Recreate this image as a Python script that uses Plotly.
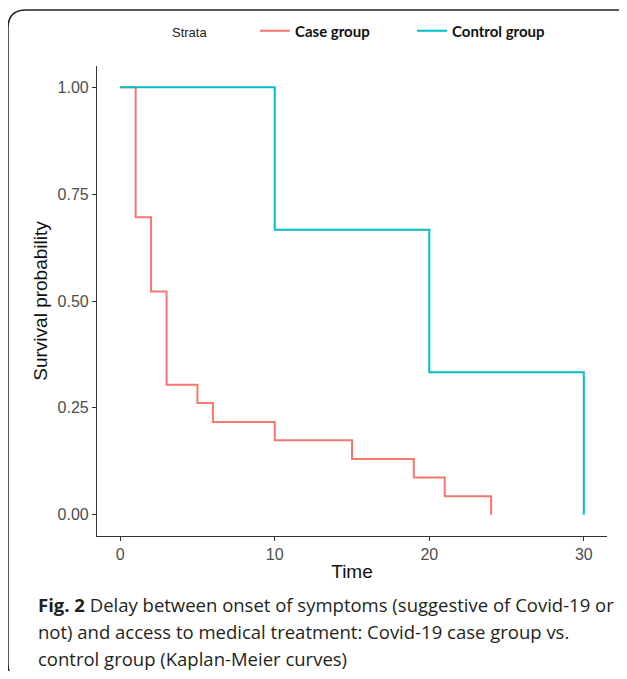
import plotly.graph_objects as go

# Kaplan-Meier estimates
case_time = [0, 1, 2, 3, 5, 6, 10, 15, 19, 21, 24]
case_surv = [1.0, 0.696, 0.522, 0.304, 0.261, 0.217, 0.174, 0.130, 0.087, 0.043, 0.0]

control_time = [0, 10, 20, 30]
control_surv = [1.0, 0.667, 0.333, 0.0]

x_ticks = [0, 10, 20, 30]
y_ticks = [0, 0.25, 0.5, 0.75, 1.0]
y_ticklabels = ["0.00", "0.25", "0.50", "0.75", "1.00"]

caption_lines = [
    "<b>Fig. 2</b> Delay between onset of symptoms (suggestive of Covid-19 or",
    "not) and access to medical treatment: Covid-19 case group vs.",
    "control group (Kaplan-Meier curves)",
]

# the page body adds an 8px margin, so the figure is 16px smaller than the window
OFF = 8
W, H = 627 - 2 * OFF, 679 - 2 * OFF
# plot area: x 97..607, y 66..536 in window pixels
L, R, T, B = 97 - OFF, W - (607 - OFF), 66 - OFF, H - (536 - OFF)

# window pixel -> paper coordinates
def px_x(x):
    return (x - OFF - L) / (W - L - R)

def px_y(y):
    return (H - B - (y - OFF)) / (H - T - B)

fig = go.Figure()

fig.add_trace(go.Scatter(x=case_time, y=case_surv,
                    mode='lines', line_shape='hv',
                    line=dict(color='#F8766D', width=2),
                    name='Case group'))
fig.add_trace(go.Scatter(x=control_time, y=control_surv,
                    mode='lines', line_shape='hv',
                    line=dict(color='#00BFC4', width=2),
                    name='Control group'))

# legend title
fig.add_annotation(text='Strata', xref='paper', yref='paper',
                   x=px_x(170), y=px_y(32), xanchor='left', yanchor='middle',
                   showarrow=False,
                   font=dict(family='Liberation Sans', size=13, color='#222222'))

# caption below the plot
caption_y = [604, 631, 658]
for line, cy in zip(caption_lines, caption_y):
    fig.add_annotation(text=line, xref='paper', yref='paper',
                       x=px_x(36), y=px_y(cy),
                       xanchor='left', yanchor='middle', showarrow=False,
                       font=dict(family='Open Sans', size=18.5, color='#231f20'))

# journal frame (top and left edges with rounded corners)
frame = (f"M {px_x(640)},{px_y(10)} L {px_x(26)},{px_y(10)} "
         f"Q {px_x(8)},{px_y(10)} {px_x(8)},{px_y(28)} "
         f"L {px_x(8)},{px_y(664)} Q {px_x(8)},{px_y(679)} {px_x(22)},{px_y(680)}")
fig.add_shape(type='path', path=frame, xref='paper', yref='paper',
              line=dict(color='#222222', width=1.5))

axis_style = dict(showline=True, linecolor='#333333', linewidth=1.2,
                  ticks='outside', ticklen=4, tickcolor='#333333', tickwidth=1.2,
                  showgrid=False, zeroline=False,
                  tickfont=dict(family='Liberation Sans', size=16, color='#4D4D4D'),
                  title_font=dict(family='Liberation Sans', size=19, color='#111111'))

fig.update_xaxes(range=[-1.5, 31.5], tickvals=x_ticks,
                 title_text='Time', title_standoff=2, **axis_style)
fig.update_yaxes(range=[-0.05, 1.05], tickvals=y_ticks, ticktext=y_ticklabels,
                 title_text='Survival probability', title_standoff=4, **axis_style)

fig.update_layout(
    width=W, height=H,
    margin=dict(l=L, r=R, t=T, b=B, autoexpand=False),
    plot_bgcolor='white', paper_bgcolor='white',
    legend=dict(orientation='h', x=px_x(255), y=px_y(31),
                xanchor='left', yanchor='middle',
                font=dict(family='Lato', size=15, color='#111111', weight='bold'),
                itemwidth=30, entrywidth=112),
)

fig.write_html("out.html")
